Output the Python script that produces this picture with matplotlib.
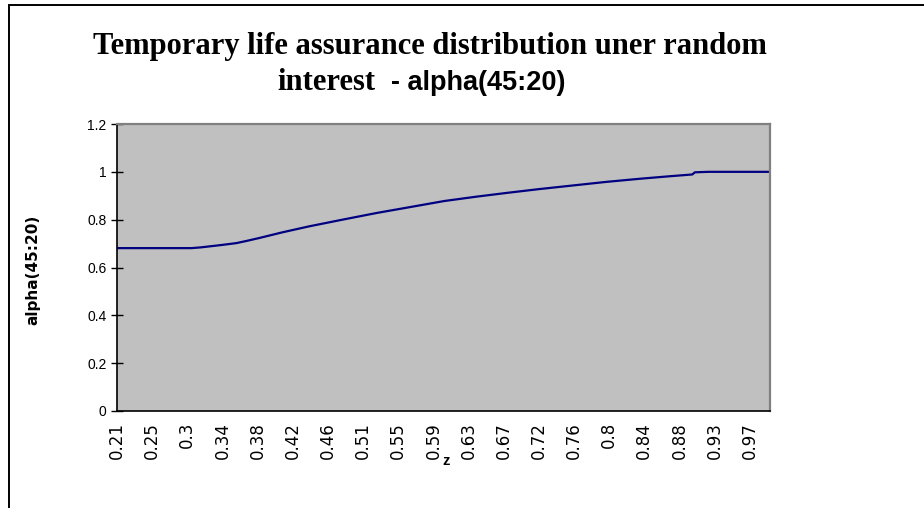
import matplotlib
matplotlib.use('Agg')
import matplotlib.pyplot as plt
from matplotlib.patches import Rectangle
from matplotlib.transforms import ScaledTranslation
import numpy as np

# values
z = [0.21, 0.25, 0.299, 0.31, 0.32, 0.335, 0.353, 0.365, 0.38, 0.394, 0.408,
     0.44, 0.48, 0.521, 0.56, 0.602, 0.64, 0.677, 0.716, 0.756, 0.796, 0.836,
     0.87, 0.899, 0.902, 0.918, 0.992]
alpha = [0.681, 0.681, 0.681, 0.684, 0.688, 0.694, 0.702, 0.711, 0.723, 0.735, 0.747,
         0.772, 0.800, 0.828, 0.852, 0.878, 0.896, 0.912, 0.928, 0.943, 0.958, 0.971,
         0.981, 0.989, 0.998, 1.0, 1.0]
xtick_labels = ['0.21', '0.25', '0.3', '0.34', '0.38', '0.42', '0.46', '0.51', '0.55',
                '0.59', '0.63', '0.67', '0.72', '0.76', '0.8', '0.84', '0.88', '0.93', '0.97']
yticks = [0, 0.2, 0.4, 0.6, 0.8, 1, 1.2]
ytick_labels = ['0', '0.2', '0.4', '0.6', '0.8', '1', '1.2']

W, H = 924, 508
fig = plt.figure(figsize=(W / 100, H / 100), dpi=100)
fig.patch.set_facecolor('white')

# outer chart frame (cut off at right and bottom)
fig.patches.append(Rectangle((8.5 / W, -0.1), 1.2, 1.1 - 5.5 / H, transform=fig.transFigure,
                             fill=False, edgecolor='black', lw=1.4))

ax = fig.add_axes([117 / W, 1 - 411 / H, (770 - 117) / W, (411 - 124) / H])
ax.set_facecolor('#C0C0C0')
ax.plot(z, alpha, color='#000080', lw=1.6, solid_joinstyle='round')

ax.set_xlim(0.21, 0.992)
ax.set_ylim(0, 1.2)
step = 0.0421
ax.set_xticks(0.21 + step * np.arange(len(xtick_labels)))
# rotated text in the original is drawn wide, DejaVu comes closer than Arial here
ax.set_xticklabels(xtick_labels, rotation=90, fontsize=12, family='DejaVu Sans')
shift = ScaledTranslation(-3 / 100, 0, fig.dpi_scale_trans)
for lab in ax.get_xticklabels():
    lab.set_transform(lab.get_transform() + shift)
ax.set_yticks(yticks)
ax.set_yticklabels(ytick_labels, fontsize=10, family='Liberation Sans')
ax.tick_params(axis='x', length=0, pad=8)
ax.tick_params(axis='y', direction='inout', length=9, width=1, pad=3)

for s in ['left', 'bottom']:
    ax.spines[s].set_color('black')
    ax.spines[s].set_linewidth(1.2)
for s in ['top', 'right']:
    ax.spines[s].set_color('#808080')
    ax.spines[s].set_linewidth(1.6)

ax.set_xlabel('z', fontsize=10.5, fontweight='bold', family='Liberation Sans', va='center')
ax.xaxis.set_label_coords((446 - 117) / 653, (411 - 461) / 287)
ax.set_ylabel('alpha(45:20)', fontsize=11, fontweight='bold', family='DejaVu Sans',
              va='center')
ax.yaxis.set_label_coords((33 - 117) / 653, 0.49)

# title: mixed serif / sans, as in the original
fig.text(430 / W, 1 - 54 / H, 'Temporary life assurance distribution uner random',
         ha='center', va='baseline', fontsize=22, fontweight='bold',
         family='Liberation Serif')
fig.text(375 / W, 1 - 90 / H, 'interest', ha='right', va='baseline', fontsize=22,
         fontweight='bold', family='Liberation Serif')
fig.text(391 / W, 1 - 90 / H, '- alpha(45:20)', ha='left', va='baseline', fontsize=19.5,
         fontweight='bold', family='Liberation Sans')

fig.savefig('out.png', dpi=100)
